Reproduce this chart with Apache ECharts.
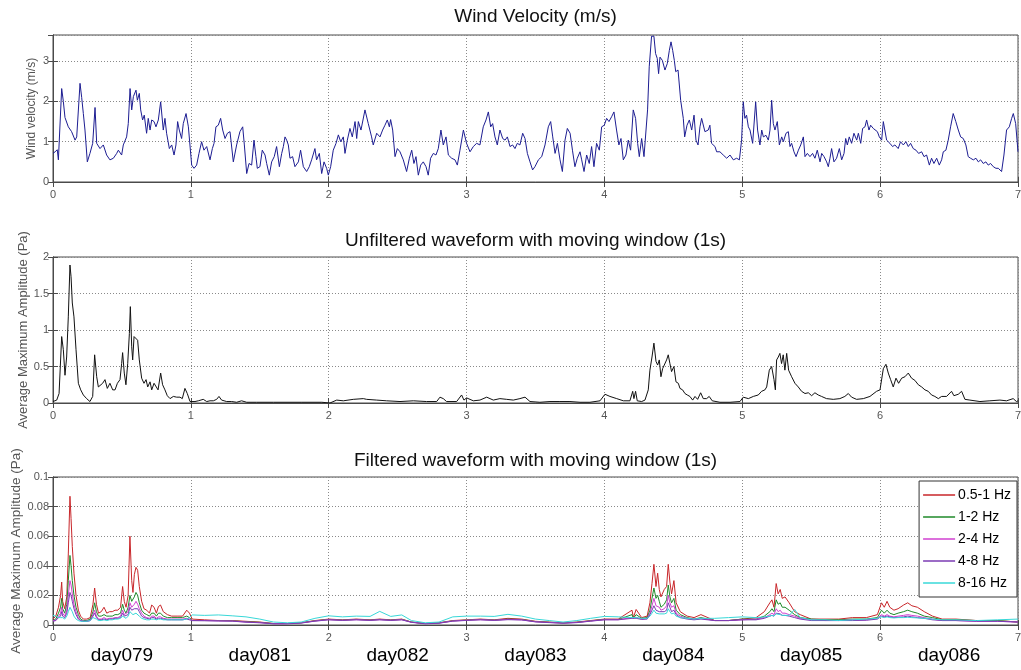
<!DOCTYPE html>
<html>
<head>
<meta charset="utf-8">
<script src="https://cdn.jsdelivr.net/npm/echarts@6/dist/echarts.min.js"></script>
<style>
html,body{margin:0;padding:0;background:#fff}
#chart{width:1021px;height:670px}
</style>
</head>
<body>
<div id="chart"></div>
<script>
// ---- data (time axis in days from start of record) ----
const dayLabels = ['day079','day081','day082','day083','day084','day085','day086'];

// wind velocity, m/s : [day, value]
const windVelocity = [
[0,0.71],[0.015,0.75],[0.031,0.8],[0.039,0.55],[0.063,2.32],[0.075,2.0],[0.087,1.6],[0.111,1.37],[0.123,1.4],[0.135,1.25],
[0.16,1.04],[0.172,1.12],[0.196,2.45],[0.208,2.1],[0.22,1.7],[0.232,1.29],[0.249,0.5],[0.268,0.71],[0.288,0.96],[0.305,1.85],
[0.317,0.96],[0.341,0.83],[0.365,0.92],[0.389,0.67],[0.413,0.55],[0.438,0.59],[0.462,0.71],[0.474,0.79],[0.498,0.67],[0.51,0.92],
[0.534,1.12],[0.546,1.45],[0.559,2.32],[0.571,1.79],[0.583,2.12],[0.602,2.28],[0.612,2.03],[0.626,2.2],[0.636,1.79],[0.65,1.54],
[0.662,1.66],[0.679,1.21],[0.691,1.58],[0.704,1.29],[0.716,1.54],[0.733,1.5],[0.747,1.37],[0.764,1.54],[0.781,1.99],[0.8,1.29],
[0.812,1.58],[0.824,1.21],[0.844,0.83],[0.861,0.92],[0.878,0.67],[0.892,0.92],[0.904,1.5],[0.916,1.29],[0.933,1.08],[0.945,1.45],
[0.965,1.7],[0.982,1.37],[0.994,1.33],[1.006,0.42],[1.023,0.34],[1.042,0.42],[1.059,0.71],[1.078,1.0],[1.095,0.79],[1.115,0.88],
[1.139,0.55],[1.156,0.83],[1.168,0.96],[1.182,1.37],[1.199,1.41],[1.216,1.58],[1.231,1.29],[1.248,1.08],[1.265,1.21],[1.284,1.25],
[1.308,0.5],[1.332,0.92],[1.356,1.25],[1.376,1.37],[1.388,0.92],[1.405,0.21],[1.422,0.46],[1.441,0.42],[1.458,1.04],[1.472,0.63],
[1.482,0.34],[1.501,0.38],[1.518,0.79],[1.538,0.67],[1.55,0.46],[1.569,0.17],[1.586,0.5],[1.605,0.63],[1.622,0.88],[1.642,0.38],
[1.659,0.71],[1.671,0.88],[1.683,1.12],[1.695,1.04],[1.707,0.92],[1.719,0.59],[1.738,0.63],[1.755,0.38],[1.78,0.5],[1.796,0.79],
[1.816,0.38],[1.84,0.26],[1.859,0.38],[1.876,0.55],[1.9,0.83],[1.912,0.55],[1.932,0.71],[1.949,0.21],[1.966,0.5],[1.985,0.34],
[1.997,0.17],[2.014,0.38],[2.033,0.79],[2.053,0.96],[2.07,1.17],[2.087,1.0],[2.106,1.12],[2.118,0.71],[2.135,1.04],[2.154,1.33],
[2.171,1.12],[2.191,1.5],[2.203,1.08],[2.215,1.5],[2.234,1.29],[2.263,1.79],[2.287,1.45],[2.311,1.12],[2.323,0.92],[2.348,1.21],
[2.372,1.12],[2.391,1.29],[2.408,1.41],[2.425,1.54],[2.44,1.37],[2.449,1.55],[2.464,1.29],[2.481,0.63],[2.498,0.83],[2.517,0.75],
[2.541,0.55],[2.565,0.26],[2.585,0.59],[2.602,0.79],[2.618,0.46],[2.633,0.63],[2.65,0.17],[2.667,0.42],[2.686,0.5],[2.706,0.38],
[2.722,0.17],[2.739,0.59],[2.759,0.71],[2.778,0.67],[2.795,0.83],[2.814,1.29],[2.831,0.92],[2.851,1.12],[2.868,0.67],[2.892,0.59],
[2.916,0.55],[2.933,0.42],[2.952,0.79],[2.977,1.29],[3.0,0.96],[3.025,0.75],[3.049,0.88],[3.073,0.96],[3.097,0.92],[3.121,1.37],
[3.141,1.54],[3.158,1.74],[3.175,1.37],[3.189,1.45],[3.206,1.12],[3.223,0.92],[3.242,1.29],[3.262,1.08],[3.279,1.04],[3.296,1.12],
[3.315,0.88],[3.334,0.92],[3.351,0.83],[3.368,0.96],[3.387,0.92],[3.407,1.21],[3.424,1.08],[3.441,0.71],[3.46,0.5],[3.479,0.3],
[3.496,0.38],[3.521,0.55],[3.545,0.63],[3.569,0.92],[3.593,1.37],[3.61,1.5],[3.625,1.12],[3.642,0.71],[3.659,0.96],[3.678,0.55],
[3.695,0.26],[3.714,1.04],[3.731,1.33],[3.751,1.21],[3.768,0.79],[3.786,0.38],[3.803,0.59],[3.823,0.75],[3.835,0.55],[3.852,0.26],
[3.871,0.67],[3.89,0.46],[3.907,0.88],[3.924,0.38],[3.943,0.96],[3.963,0.79],[3.98,1.37],[3.999,1.41],[4.016,1.58],[4.033,1.5],
[4.052,1.62],[4.069,1.74],[4.088,1.29],[4.105,0.92],[4.12,1.08],[4.137,0.55],[4.156,0.67],[4.173,1.04],[4.19,0.79],[4.209,1.79],
[4.226,1.58],[4.241,0.96],[4.253,0.63],[4.27,1.08],[4.287,0.63],[4.296,0.63],[4.313,1.79],[4.325,2.86],[4.342,3.62],[4.359,3.62],
[4.371,3.19],[4.383,3.07],[4.393,2.69],[4.403,3.1],[4.42,3.02],[4.439,2.78],[4.456,2.94],[4.471,3.27],[4.483,3.48],[4.495,3.27],
[4.507,3.02],[4.517,2.74],[4.534,2.78],[4.553,2.03],[4.572,1.58],[4.582,1.12],[4.599,1.41],[4.616,1.54],[4.633,1.29],[4.65,1.66],
[4.664,1.04],[4.679,0.92],[4.693,1.37],[4.705,1.58],[4.729,1.25],[4.753,1.29],[4.765,1.41],[4.777,0.96],[4.802,0.88],[4.814,0.75],
[4.838,0.75],[4.862,0.67],[4.887,0.59],[4.911,0.67],[4.935,0.55],[4.959,0.59],[4.979,0.55],[4.995,1.04],[5.007,1.99],[5.019,1.58],
[5.031,1.66],[5.044,1.37],[5.056,1.29],[5.075,0.96],[5.097,1.99],[5.111,1.29],[5.128,0.92],[5.141,1.29],[5.153,1.12],[5.172,1.16],
[5.189,1.04],[5.201,1.29],[5.213,2.03],[5.225,1.45],[5.237,1.29],[5.254,1.5],[5.269,0.92],[5.286,1.12],[5.298,1.0],[5.317,1.21],
[5.334,1.25],[5.346,0.88],[5.358,0.96],[5.375,0.75],[5.39,0.63],[5.407,0.79],[5.424,0.92],[5.443,1.12],[5.455,0.63],[5.472,0.71],
[5.491,0.63],[5.51,0.71],[5.527,0.59],[5.544,0.79],[5.564,0.5],[5.576,0.71],[5.593,0.63],[5.612,0.5],[5.624,0.38],[5.636,0.59],
[5.648,0.83],[5.665,0.5],[5.684,0.59],[5.704,0.83],[5.721,0.55],[5.738,0.71],[5.75,1.08],[5.762,0.92],[5.776,1.12],[5.793,0.96],
[5.81,1.21],[5.83,1.04],[5.842,1.21],[5.859,0.96],[5.873,1.33],[5.89,1.37],[5.902,1.54],[5.919,1.29],[5.931,1.41],[5.95,1.33],
[5.963,1.37],[5.98,1.25],[5.994,1.12],[6.011,1.04],[6.023,1.5],[6.035,1.54],[6.047,1.04],[6.071,0.96],[6.09,0.88],[6.107,0.92],
[6.131,0.83],[6.148,1.0],[6.168,0.92],[6.187,1.0],[6.204,0.88],[6.221,0.96],[6.24,0.83],[6.26,0.79],[6.279,0.71],[6.301,0.75],
[6.318,0.63],[6.337,0.67],[6.357,0.42],[6.373,0.59],[6.39,0.46],[6.41,0.59],[6.429,0.42],[6.446,0.55],[6.458,0.75],[6.477,0.79],
[6.494,1.04],[6.511,1.37],[6.53,1.7],[6.549,1.5],[6.567,1.29],[6.584,1.12],[6.603,1.08],[6.622,0.92],[6.639,0.63],[6.656,0.59],
[6.676,0.55],[6.695,0.59],[6.712,0.5],[6.729,0.55],[6.748,0.46],[6.767,0.5],[6.784,0.42],[6.801,0.46],[6.821,0.38],[6.84,0.34],
[6.857,0.34],[6.881,0.26],[6.898,0.67],[6.917,1.29],[6.937,1.37],[6.954,1.58],[6.966,1.7],[6.983,1.45],[7.0,0.75]
];

// unfiltered waveform, average maximum amplitude (Pa) : [day, value]
const unfilteredAmp = [
[0,0.02],[0.027,0.04],[0.044,0.13],[0.063,0.91],[0.075,0.73],[0.087,0.38],[0.099,0.63],[0.111,1.18],[0.123,1.89],[0.131,1.73],
[0.14,1.37],[0.152,1.18],[0.167,0.73],[0.184,0.27],[0.201,0.18],[0.22,0.11],[0.244,0.06],[0.268,0.02],[0.288,0.09],[0.302,0.66],
[0.317,0.36],[0.329,0.22],[0.341,0.2],[0.36,0.27],[0.377,0.32],[0.394,0.2],[0.413,0.27],[0.433,0.18],[0.45,0.18],[0.467,0.27],
[0.486,0.32],[0.498,0.54],[0.505,0.69],[0.517,0.41],[0.529,0.25],[0.542,0.54],[0.554,0.95],[0.561,1.32],[0.571,0.77],[0.578,0.59],
[0.588,0.91],[0.602,0.93],[0.614,0.86],[0.626,0.59],[0.643,0.34],[0.66,0.27],[0.675,0.32],[0.687,0.22],[0.704,0.29],[0.716,0.18],
[0.733,0.27],[0.747,0.29],[0.762,0.18],[0.781,0.41],[0.795,0.25],[0.812,0.18],[0.829,0.1],[0.849,0.06],[0.873,0.09],[0.897,0.08],
[0.921,0.08],[0.938,0.06],[0.957,0.2],[0.974,0.13],[0.994,0.02],[1.03,0.02],[1.054,0.03],[1.09,0.05],[1.115,0.02],[1.139,0.03],
[1.163,0.03],[1.187,0.05],[1.204,0.09],[1.223,0.04],[1.26,0.02],[1.296,0.02],[1.332,0.01],[1.368,0.03],[1.405,0.01],[1.477,0.01],
[1.6,0.01],[1.8,0.01],[1.95,0.01],[2.009,0.0],[2.058,0.04],[2.106,0.03],[2.178,0.05],[2.251,0.06],[2.275,0.05],[2.348,0.04],
[2.42,0.03],[2.517,0.02],[2.614,0.03],[2.71,0.02],[2.783,0.02],[2.807,0.08],[2.831,0.06],[2.855,0.02],[2.928,0.02],[2.964,0.11],
[2.981,0.04],[3.0,0.07],[3.049,0.03],[3.097,0.04],[3.146,0.08],[3.194,0.04],[3.242,0.06],[3.291,0.05],[3.339,0.04],[3.387,0.06],
[3.424,0.08],[3.46,0.02],[3.532,0.01],[3.605,0.02],[3.677,0.02],[3.75,0.02],[3.823,0.01],[3.895,0.01],[3.968,0.03],[4.004,0.12],
[4.04,0.09],[4.089,0.06],[4.137,0.03],[4.185,0.03],[4.205,0.16],[4.214,0.06],[4.226,0.16],[4.238,0.03],[4.27,0.02],[4.294,0.04],
[4.318,0.18],[4.33,0.45],[4.345,0.63],[4.359,0.82],[4.374,0.57],[4.386,0.52],[4.398,0.59],[4.41,0.36],[4.422,0.47],[4.434,0.47],
[4.451,0.59],[4.463,0.66],[4.475,0.54],[4.487,0.43],[4.504,0.5],[4.519,0.29],[4.536,0.27],[4.548,0.2],[4.567,0.18],[4.584,0.13],
[4.601,0.11],[4.62,0.09],[4.64,0.04],[4.657,0.09],[4.676,0.05],[4.698,0.14],[4.717,0.06],[4.741,0.06],[4.76,0.09],[4.782,0.03],
[4.838,0.01],[4.911,0.01],[4.983,0.02],[5.007,0.08],[5.044,0.06],[5.08,0.09],[5.116,0.11],[5.14,0.16],[5.164,0.18],[5.177,0.22],
[5.196,0.45],[5.213,0.5],[5.23,0.32],[5.24,0.18],[5.249,0.59],[5.261,0.63],[5.273,0.68],[5.285,0.54],[5.297,0.66],[5.309,0.45],
[5.322,0.68],[5.336,0.45],[5.358,0.36],[5.382,0.27],[5.406,0.22],[5.43,0.16],[5.455,0.13],[5.479,0.14],[5.503,0.1],[5.527,0.14],
[5.551,0.11],[5.575,0.09],[5.611,0.06],[5.66,0.05],[5.708,0.06],[5.744,0.09],[5.769,0.13],[5.793,0.08],[5.829,0.05],[5.878,0.06],
[5.926,0.09],[5.974,0.16],[5.999,0.18],[6.023,0.47],[6.042,0.53],[6.059,0.41],[6.076,0.32],[6.095,0.22],[6.115,0.34],[6.134,0.27],
[6.156,0.34],[6.18,0.36],[6.204,0.41],[6.228,0.34],[6.252,0.31],[6.277,0.25],[6.301,0.22],[6.325,0.18],[6.349,0.16],[6.373,0.11],
[6.397,0.09],[6.422,0.06],[6.446,0.09],[6.482,0.09],[6.518,0.16],[6.535,0.1],[6.567,0.12],[6.591,0.16],[6.615,0.05],[6.651,0.04],
[6.724,0.02],[6.796,0.03],[6.869,0.04],[6.917,0.03],[6.965,0.06],[6.989,0.02],[7.0,0.03]
];

// filtered waveforms share one time base
const filteredDays = [
0,0.02,0.04,0.055,0.063,0.07,0.085,0.1,0.111,0.123,
0.131,0.14,0.152,0.167,0.184,0.2,0.22,0.245,0.27,0.29,
0.302,0.315,0.33,0.35,0.37,0.39,0.41,0.43,0.45,0.47,
0.49,0.505,0.517,0.53,0.545,0.558,0.571,0.58,0.59,0.602,
0.614,0.626,0.643,0.66,0.68,0.7,0.716,0.733,0.75,0.765,
0.78,0.8,0.83,0.86,0.9,0.94,0.97,0.99,1.01,1.1,
1.2,1.3,1.4,1.5,1.6,1.7,1.8,1.9,2.0,2.1,
2.2,2.3,2.37,2.45,2.53,2.6,2.7,2.8,2.9,3.0,
3.1,3.2,3.3,3.4,3.5,3.6,3.7,3.8,3.9,4.0,
4.1,4.2,4.21,4.23,4.27,4.31,4.33,4.345,4.359,4.374,
4.386,4.398,4.41,4.434,4.451,4.463,4.475,4.487,4.504,4.52,
4.55,4.6,4.65,4.7,4.8,4.9,5.0,5.1,5.16,5.2,
5.215,5.23,5.246,5.26,5.275,5.29,5.31,5.34,5.38,5.42,
5.5,5.6,5.7,5.8,5.9,5.98,6.01,6.03,6.05,6.07,
6.1,6.13,6.17,6.2,6.23,6.27,6.32,6.38,6.45,6.55,
6.7,6.85,7.0
];

const band05to1 = [
0.004,0.006,0.012,0.02,0.029,0.016,0.011,0.019,0.048,0.087,
0.072,0.053,0.035,0.02,0.01,0.006,0.004,0.004,0.005,0.014,
0.025,0.014,0.008,0.009,0.012,0.008,0.009,0.009,0.010,0.010,
0.012,0.026,0.016,0.012,0.02,0.06,0.03,0.022,0.034,0.039,
0.037,0.026,0.016,0.011,0.01,0.008,0.0135,0.012,0.008,0.0125,
0.0135,0.009,0.007,0.006,0.006,0.006,0.01,0.008,0.004,0.0035,
0.003,0.003,0.0025,0.002,0.001,0.001,0.0015,0.003,0.004,0.0035,
0.004,0.0035,0.004,0.0035,0.004,0.002,0.001,0.0015,0.003,0.0035,
0.004,0.0035,0.0045,0.004,0.0025,0.002,0.0015,0.002,0.003,0.004,
0.004,0.01,0.005,0.0105,0.005,0.006,0.015,0.028,0.041,0.026,
0.035,0.024,0.019,0.024,0.026,0.041,0.029,0.021,0.03,0.015,
0.009,0.006,0.005,0.007,0.003,0.003,0.004,0.005,0.009,0.015,
0.017,0.012,0.028,0.021,0.024,0.018,0.019,0.015,0.009,0.007,
0.004,0.004,0.004,0.005,0.005,0.007,0.015,0.012,0.016,0.012,
0.01,0.011,0.0135,0.015,0.013,0.012,0.009,0.006,0.004,0.004,
0.003,0.003,0.002
];

const band1to2 = [
0.003,0.004,0.008,0.012,0.018,0.011,0.008,0.014,0.03,0.047,
0.04,0.03,0.02,0.012,0.007,0.004,0.003,0.003,0.004,0.009,
0.015,0.009,0.006,0.006,0.007,0.006,0.006,0.006,0.007,0.007,
0.008,0.014,0.01,0.008,0.012,0.02,0.016,0.015,0.019,0.022,
0.02,0.015,0.01,0.008,0.007,0.006,0.008,0.008,0.006,0.008,
0.008,0.006,0.005,0.005,0.005,0.005,0.006,0.005,0.003,0.003,
0.003,0.0028,0.0022,0.0018,0.001,0.001,0.0015,0.0028,0.0038,0.0033,
0.0038,0.0033,0.0038,0.0033,0.0038,0.002,0.001,0.0014,0.0028,0.0033,
0.0038,0.0033,0.004,0.0037,0.0023,0.0018,0.0014,0.0018,0.0028,0.0038,
0.0037,0.007,0.0045,0.007,0.0045,0.005,0.01,0.018,0.025,0.018,
0.02,0.016,0.012,0.014,0.017,0.027,0.019,0.015,0.018,0.01,
0.007,0.005,0.004,0.005,0.003,0.003,0.004,0.004,0.006,0.009,
0.011,0.009,0.017,0.014,0.015,0.012,0.012,0.01,0.007,0.005,
0.004,0.0035,0.0035,0.004,0.004,0.005,0.01,0.008,0.01,0.008,
0.007,0.008,0.009,0.01,0.009,0.008,0.006,0.005,0.0035,0.0035,
0.003,0.003,0.002
];

const band2to4 = [
0.003,0.003,0.006,0.008,0.012,0.008,0.006,0.01,0.02,0.03,
0.027,0.021,0.014,0.009,0.005,0.003,0.0025,0.0025,0.003,0.007,
0.01,0.006,0.004,0.004,0.005,0.004,0.0045,0.0045,0.005,0.005,
0.006,0.01,0.007,0.006,0.009,0.015,0.012,0.011,0.014,0.016,
0.014,0.011,0.008,0.006,0.005,0.0045,0.006,0.006,0.0045,0.0055,
0.0055,0.0045,0.004,0.004,0.004,0.004,0.0045,0.004,0.003,0.003,
0.0028,0.0027,0.002,0.0016,0.0009,0.0009,0.0014,0.0027,0.0036,0.0032,
0.0036,0.0032,0.0036,0.0032,0.0036,0.0019,0.0009,0.0013,0.0027,0.0032,
0.0036,0.0032,0.0038,0.0035,0.0022,0.0017,0.0013,0.0017,0.0027,0.0036,
0.0036,0.005,0.004,0.005,0.004,0.0045,0.008,0.013,0.018,0.013,
0.014,0.012,0.01,0.011,0.013,0.02,0.015,0.012,0.013,0.008,
0.006,0.0045,0.004,0.0045,0.003,0.003,0.0035,0.004,0.005,0.007,
0.008,0.007,0.011,0.009,0.01,0.008,0.008,0.007,0.006,0.0045,
0.0035,0.003,0.003,0.0035,0.0035,0.0045,0.007,0.006,0.007,0.006,
0.0055,0.006,0.0065,0.007,0.0065,0.006,0.005,0.004,0.003,0.003,
0.0025,0.0025,0.002
];

const band4to8 = [
0.0025,0.003,0.005,0.006,0.009,0.006,0.005,0.008,0.015,0.022,
0.02,0.016,0.011,0.007,0.004,0.003,0.0025,0.0025,0.003,0.006,
0.008,0.005,0.0035,0.0035,0.004,0.0035,0.004,0.004,0.0045,0.0045,
0.005,0.008,0.006,0.005,0.007,0.012,0.01,0.009,0.011,0.012,
0.011,0.009,0.006,0.005,0.0045,0.004,0.005,0.005,0.004,0.0045,
0.0045,0.004,0.0035,0.0035,0.0035,0.0035,0.004,0.0035,0.003,0.0029,
0.0027,0.0026,0.0019,0.0015,0.0008,0.0008,0.0013,0.0026,0.0035,0.0031,
0.0035,0.0031,0.0035,0.0031,0.0035,0.0018,0.0008,0.0012,0.0026,0.0031,
0.0035,0.0031,0.0036,0.0034,0.0021,0.0016,0.0012,0.0016,0.0026,0.0035,
0.0035,0.0045,0.0038,0.0045,0.0038,0.004,0.007,0.01,0.013,0.01,
0.011,0.009,0.008,0.009,0.01,0.015,0.012,0.009,0.01,0.007,
0.005,0.004,0.0035,0.004,0.003,0.003,0.0035,0.0035,0.0045,0.006,
0.0065,0.006,0.008,0.007,0.0075,0.0065,0.0065,0.006,0.005,0.004,
0.003,0.003,0.003,0.003,0.0032,0.004,0.006,0.0055,0.006,0.0055,
0.005,0.0052,0.0055,0.006,0.0055,0.005,0.0045,0.0035,0.003,0.003,
0.0025,0.0025,0.002
];

const band8to16 = [
0.0065,0.006,0.005,0.005,0.006,0.005,0.004,0.006,0.009,0.012,
0.011,0.009,0.006,0.004,0.003,0.0025,0.0025,0.0025,0.003,0.005,
0.006,0.004,0.003,0.003,0.0035,0.003,0.0035,0.0035,0.004,0.004,
0.0045,0.006,0.005,0.0045,0.006,0.009,0.008,0.007,0.008,0.008,
0.007,0.006,0.0045,0.004,0.0035,0.0035,0.004,0.004,0.0035,0.004,
0.004,0.0035,0.0035,0.0035,0.0035,0.0035,0.004,0.005,0.0068,0.0065,
0.0068,0.0062,0.0055,0.004,0.002,0.0015,0.002,0.0045,0.0062,0.0055,
0.006,0.0058,0.0092,0.0058,0.0068,0.003,0.0015,0.002,0.0055,0.006,
0.006,0.0058,0.0072,0.006,0.004,0.003,0.002,0.003,0.0045,0.0058,
0.0055,0.005,0.005,0.005,0.0045,0.0045,0.006,0.008,0.01,0.008,
0.0085,0.0075,0.007,0.0075,0.008,0.011,0.009,0.0075,0.008,0.006,
0.005,0.0045,0.004,0.0045,0.0045,0.005,0.0055,0.005,0.0055,0.006,
0.0065,0.006,0.0075,0.007,0.007,0.0065,0.0065,0.0065,0.0105,0.005,
0.0035,0.0035,0.003,0.0035,0.004,0.0045,0.0055,0.005,0.0055,0.005,
0.0048,0.005,0.005,0.0052,0.005,0.0048,0.0045,0.004,0.0035,0.0035,
0.003,0.0035,0.004
];

const bandNames = ['0.5-1 Hz','1-2 Hz','2-4 Hz','4-8 Hz','8-16 Hz'];
const bandValues = [band05to1, band1to2, band2to4, band4to8, band8to16];
const bandColors = ['#c8262a','#1f8a2a','#d040d0','#7b3bb3','#38d8d8'];

// ---- layout / styling ----
const FONT = 'Liberation Sans, Arial, sans-serif';
const AXIS_COLOR = '#4a4a4a';
const LABEL_COLOR = '#555';
const GRID_DOT = '#8a8a8a';
const plotLeft = 53, plotWidth = 965;
const panels = [
  {top: 35,  height: 147, yMax: 3.65, yInterval: 1,    yName: 'Wind velocity (m/s)',           nameGap: 15, nameSize: 12},
  {top: 257, height: 146, yMax: 2,    yInterval: 0.5,  yName: 'Average Maximum Amplitude (Pa)', nameGap: 23, nameSize: 13},
  {top: 477, height: 148, yMax: 0.1,  yInterval: 0.02, yName: 'Average Maximum Amplitude (Pa)', nameGap: 30, nameSize: 13.5}
];
const titles = [
  {text: 'Wind Velocity (m/s)', top: 7},
  {text: 'Unfiltered waveform with moving window (1s)', top: 231},
  {text: 'Filtered waveform with moving window (1s)', top: 451}
];

const grid = [], xAxis = [], yAxis = [];
panels.forEach((p, i) => {
  grid.push({left: plotLeft, top: p.top, width: plotWidth, height: p.height,
    outerBoundsMode: 'none', containLabel: false,
    show: true, borderColor: AXIS_COLOR, borderWidth: 1, backgroundColor: '#fff'});
  const tick = {show: true, inside: true, length: 5, lineStyle: {color: AXIS_COLOR, width: 1}};
  const line = {show: true, lineStyle: {color: AXIS_COLOR, width: 1}};
  const dotted = {show: true, lineStyle: {type: [1, 2], color: GRID_DOT, width: 1}};
  xAxis.push({gridIndex: i, type: 'value', min: 0, max: 7, interval: 1, position: 'bottom',
    axisLine: line, axisTick: tick, splitLine: dotted,
    axisLabel: {color: LABEL_COLOR, fontSize: 11, fontFamily: FONT, margin: 7}});
  xAxis.push({gridIndex: i, type: 'value', min: 0, max: 7, interval: 1, position: 'top',
    axisLine: line, axisTick: tick, splitLine: {show: false}, axisLabel: {show: false}});
  yAxis.push({gridIndex: i, type: 'value', min: 0, max: p.yMax, interval: p.yInterval, position: 'left',
    axisLine: line, axisTick: tick, splitLine: dotted,
    axisLabel: {color: LABEL_COLOR, fontSize: 11, fontFamily: FONT, margin: 4, showMaxLabel: i !== 0},
    name: p.yName, nameLocation: 'middle', nameGap: p.nameGap, nameRotate: 90, nameMoveOverlap: false,
    nameTextStyle: {color: LABEL_COLOR, fontSize: p.nameSize, fontFamily: FONT}});
  yAxis.push({gridIndex: i, type: 'value', min: 0, max: p.yMax, interval: p.yInterval, position: 'right',
    axisLine: line, axisTick: tick, splitLine: {show: false}, axisLabel: {show: false}});
});
// day names centred in each day band below the bottom panel
xAxis.push({gridIndex: 2, type: 'category', data: dayLabels, position: 'bottom', boundaryGap: true,
  axisLine: {show: false}, axisTick: {show: false}, splitLine: {show: false},
  axisLabel: {color: '#000', fontSize: 19, fontFamily: FONT, margin: 21, interval: 0}});

const series = [
  {name: 'wind', type: 'line', xAxisIndex: 0, yAxisIndex: 0, data: windVelocity,
   showSymbol: false, symbol: 'none', lineStyle: {color: '#1d1d92', width: 1}, silent: true},
  {name: 'unfiltered', type: 'line', xAxisIndex: 2, yAxisIndex: 2, data: unfilteredAmp,
   showSymbol: false, symbol: 'none', lineStyle: {color: '#111', width: 1}, silent: true}
];
bandNames.forEach((n, k) => {
  series.push({name: n, type: 'line', xAxisIndex: 4, yAxisIndex: 4,
    data: filteredDays.map((d, j) => [d, bandValues[k][j]]),
    showSymbol: false, symbol: 'none', color: bandColors[k],
    lineStyle: {color: bandColors[k], width: 1}, silent: true});
});

const chart = echarts.init(document.getElementById('chart'), null, {renderer: 'canvas'});
chart.setOption({
  animation: false,
  backgroundColor: '#fff',
  textStyle: {fontFamily: FONT},
  title: titles.map(t => ({text: t.text, left: 535.5, top: t.top, textAlign: 'center', padding: 0,
    textStyle: {fontSize: 19, fontWeight: 'normal', color: '#111', fontFamily: FONT}})),
  grid, xAxis, yAxis, series,
  legend: {
    data: bandNames, orient: 'vertical', right: 4, top: 481,
    icon: 'rect', itemWidth: 32, itemHeight: 1.5, itemGap: 6,
    backgroundColor: '#fff', borderColor: '#333', borderWidth: 1, padding: [6, 6, 6, 4],
    selectedMode: false,
    textStyle: {fontSize: 14, color: '#000', fontFamily: FONT, lineHeight: 16, padding: [0, 0, 0, -2]}
  }
});
</script>
</body>
</html>
